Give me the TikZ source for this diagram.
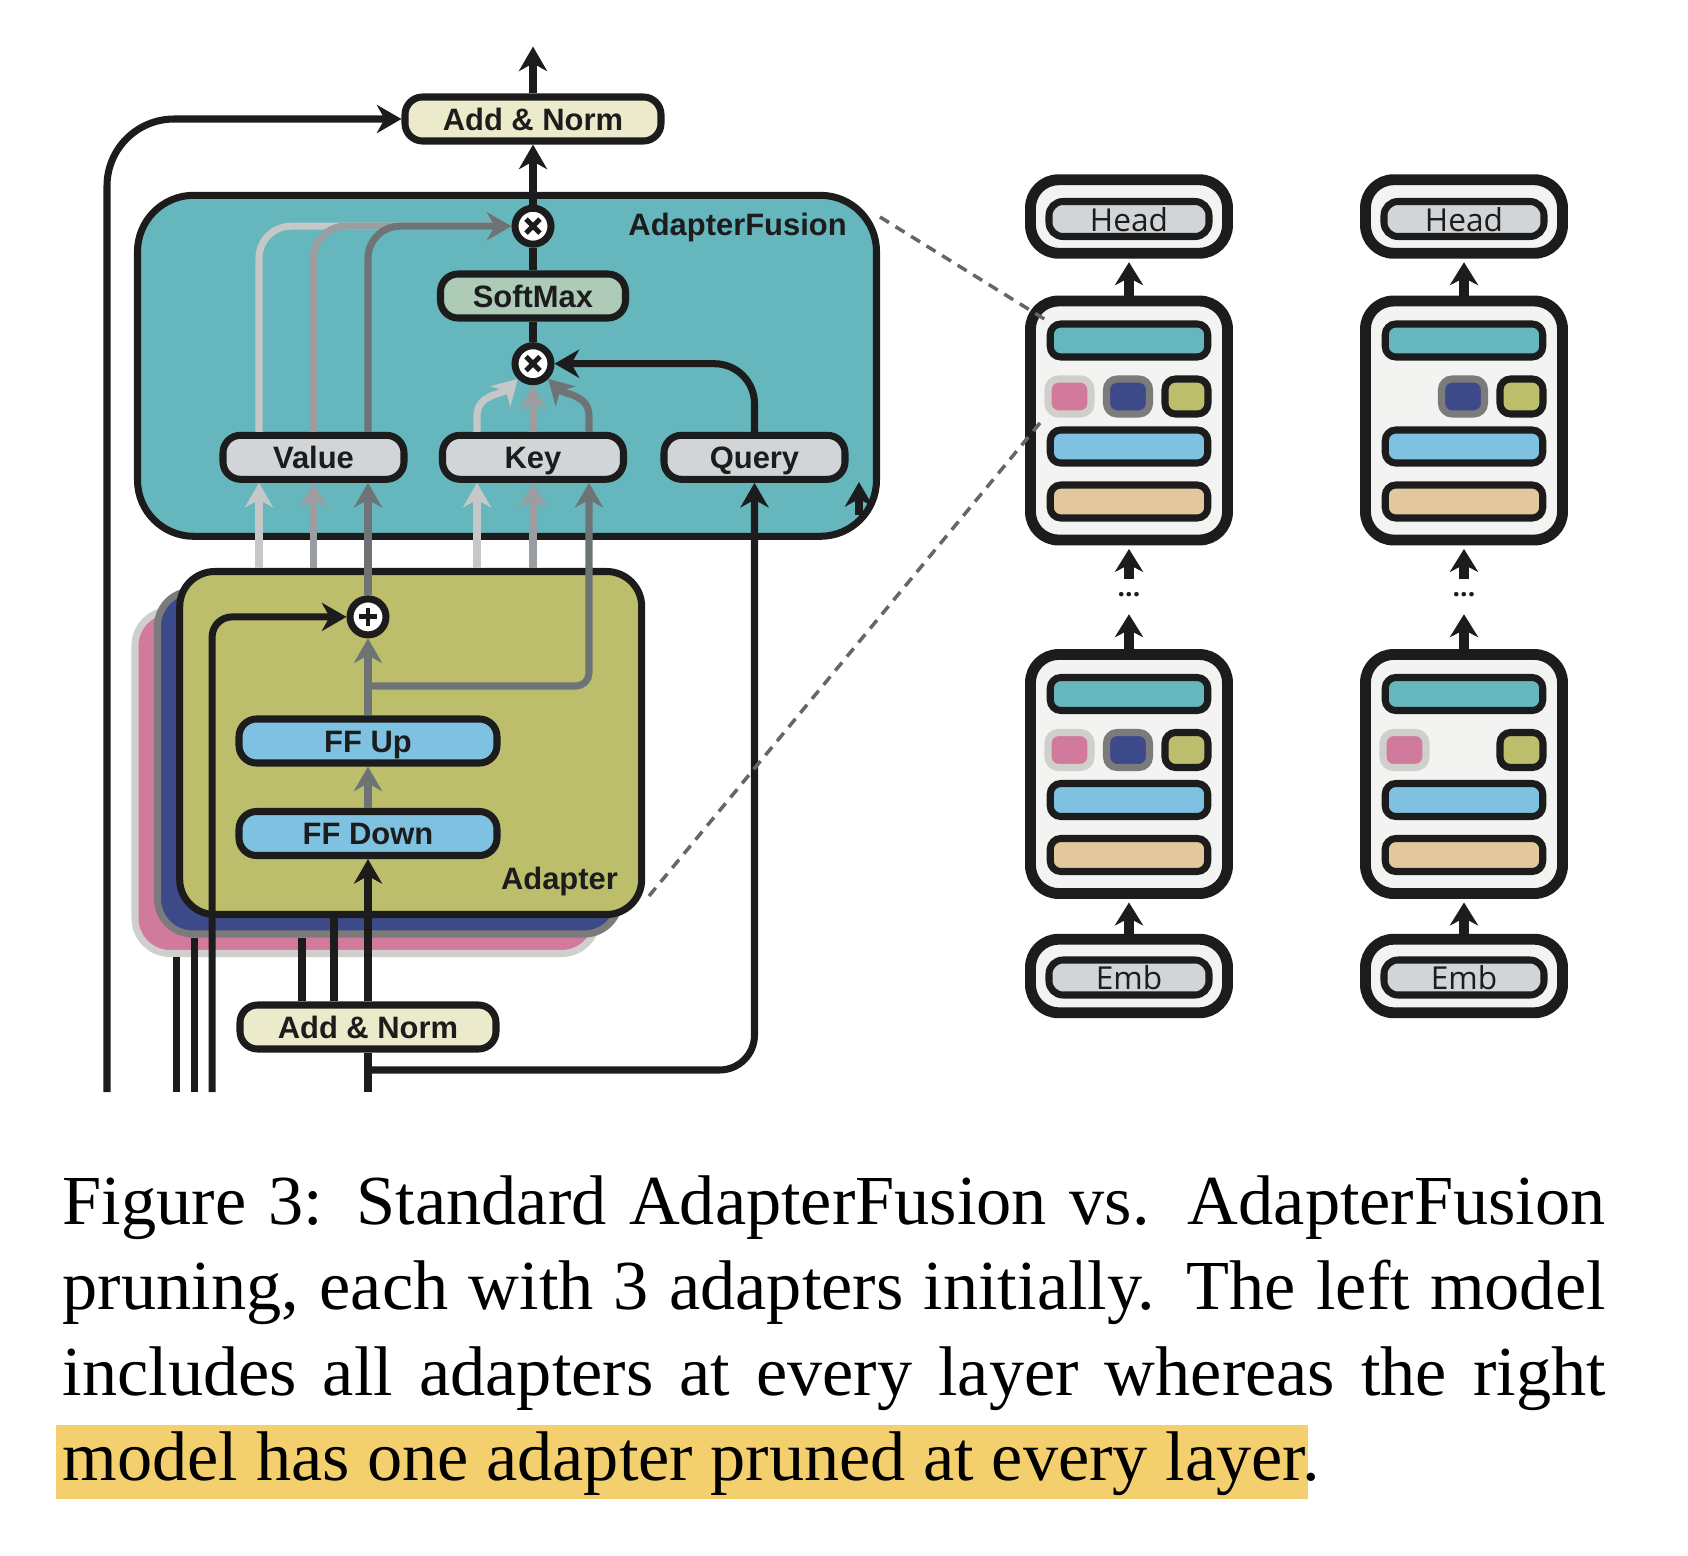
\documentclass[tikz,border=0pt]{standalone}
\usepackage{fontspec}
\setmainfont{Liberation Serif}
\newfontfamily\boxfont{Liberation Sans}
\newfontfamily\modelfont{Open Sans}
\usetikzlibrary{arrows.meta}

\definecolor{ink}{HTML}{1C1C1C}
\definecolor{fusioncol}{HTML}{66B6BD}
\definecolor{olivecol}{HTML}{BCBE6C}
\definecolor{pinkcol}{HTML}{D27A9B}
\definecolor{pinkedge}{HTML}{CFCFCB}
\definecolor{navycol}{HTML}{3D4A8A}
\definecolor{navyedge}{HTML}{7B7B7B}
\definecolor{ffcol}{HTML}{7FC1E0}
\definecolor{normcol}{HTML}{EBEBCC}
\definecolor{softcol}{HTML}{AECBB8}
\definecolor{keycol}{HTML}{D1D5D7}
\definecolor{tancol}{HTML}{E2C89C}
\definecolor{modelbg}{HTML}{F3F3F1}
\definecolor{lightline}{HTML}{C6C8C8}
\definecolor{midline}{HTML}{9A9EA0}
\definecolor{darkline}{HTML}{6E7476}
\definecolor{marker}{HTML}{F3CF6E}
\definecolor{dashcol}{HTML}{666666}

\begin{document}
\begin{tikzpicture}[x=1mm, y=-1mm,
        box/.style={draw=ink, line width=2pt, rounded corners=5pt, minimum height=4.4mm, inner sep=0pt,
            text height=6.3pt, text depth=0pt, text=ink, font=\boxfont\bfseries\fontsize{8.8pt}{10pt}\selectfont},
        lbl/.style={inner sep=0pt, text=ink, font=\boxfont\bfseries\fontsize{8.8pt}{10pt}\selectfont},
        stack/.style={line width=2pt, rounded corners=10pt, minimum width=46.2mm, minimum height=34.3mm},
        otimes/.style={circle, draw=ink, fill=white, line width=2pt, minimum size=3.6mm, inner sep=0pt,
            path picture={\draw[ink, line width=1.4pt] (path picture bounding box.center) +(-.7mm,-.7mm) -- +(.7mm,.7mm) +(-.7mm,.7mm) -- +(.7mm,-.7mm);}},
        oplus/.style={circle, draw=ink, fill=white, line width=2pt, minimum size=3.6mm, inner sep=0pt,
            path picture={\draw[ink, line width=1.4pt] (path picture bounding box.center) +(-.9mm,0) -- +(.9mm,0) +(0,-.9mm) -- +(0,.9mm);}},
        arr/.style={line width=2pt, -{Stealth[length=7pt, width=8pt, inset=2.2pt]}},
        wire/.style={ink, line width=2pt},
        mout/.style={draw=ink, line width=3.1pt, fill=modelbg, rounded corners=8pt, minimum width=19.7mm, inner sep=0pt},
        minner/.style={draw=ink, line width=2pt, fill=keycol, rounded corners=4pt, minimum width=16mm, minimum height=3.5mm,
            inner sep=0pt, text height=6.4pt, text depth=0pt, text=ink, font=\modelfont\fontsize{9pt}{10pt}\selectfont},
        mbar/.style={draw=ink, line width=2pt, rounded corners=3pt, minimum width=15.75mm, minimum height=3.3mm, inner sep=0pt},
        msmall/.style={line width=2pt, rounded corners=3pt, minimum width=4.3mm, minimum height=3.5mm, inner sep=0pt},
        dots/.style={inner sep=0pt, minimum height=3mm, text height=0.9pt, text depth=0pt, text=ink, font=\modelfont\bfseries\fontsize{7.5pt}{8pt}\selectfont},
        marr/.style={ink, line width=2.6pt, -{Stealth[length=6.5pt, width=8pt, inset=2pt]}, shorten >=1pt},
        zoomline/.style={dashcol, line width=1pt, dash pattern=on 3pt off 2.2pt}]
        \useasboundingbox (0,0) rectangle (168.8,155.6);

        % fusion block and the adapter stack
        \node[draw=ink, line width=2pt, fill=fusioncol, rounded corners=16pt, minimum width=73.9mm, minimum height=34.1mm] (fusion) at (50.7,36.58) {};
        \node[stack, draw=pinkedge, fill=pinkcol] (pinkad) at (36.6,78.2) {};
        \node[stack, draw=navyedge, fill=navycol] (navyad) at (38.85,76.25) {};
        \node[stack, draw=ink, fill=olivecol] (olivead) at (41.07,74.3) {};
        \node[lbl, anchor=base east] (fusionlbl) at (84.74,23.59) {AdapterFusion};
        \node[lbl, anchor=base east] (adapterlbl) at (61.86,88.9) {Adapter};

        \node[box, fill=normcol, minimum width=25.6mm] (antop) at (53.3,11.9) {Add \& Norm};
        \node[otimes] (otop) at (53.3,22.62) {};
        \node[box, fill=softcol, minimum width=18.5mm] (softmax) at (53.3,29.6) {SoftMax};
        \node[otimes] (olow) at (53.3,36.37) {};
        \node[box, fill=keycol, minimum width=18.1mm] (value) at (31.35,45.73) {Value};
        \node[box, fill=keycol, minimum width=18.1mm] (key) at (53.3,45.73) {Key};
        \node[box, fill=keycol, minimum width=18.1mm] (query) at (75.45,45.73) {Query};

        \node[oplus] (sum) at (36.8,61.69) {};
        \node[box, fill=ffcol, minimum width=25.8mm] (ffup) at (36.8,74.1) {FF Up};
        \node[box, fill=ffcol, minimum width=25.8mm] (ffdown) at (36.8,83.35) {FF Down};
        \node[box, fill=normcol, minimum width=25.6mm] (anbot) at (36.8,102.7) {Add \& Norm};

        \coordinate (out) at (53.3,4.65);
        \coordinate (inskip) at (10.7,109.2);
        \coordinate (in1) at (17.64,109.2);
        \coordinate (in2) at (19.48,109.2);
        \coordinate (in3) at (21.21,109.2);
        \coordinate (inmain) at (36.8,109.2);
        \coordinate (branch) at (36.8,107);
        \coordinate (split) at (36.8,68.6);
        \coordinate (stub) at (85.9,51.5);

        % inputs from below
        \draw[wire] (in1) -- (in1 |- pinkad.south);
        \draw[wire] (in2) -- (in2 |- navyad.south);
        \draw[wire] (30.2,0 |- anbot.north) -- (30.2,0 |- navyad.south);
        \draw[wire] (33.4,0 |- anbot.north) -- (33.4,0 |- olivead.south);
        \draw[wire] (inmain) -- (anbot);
        \draw[arr, ink] (anbot) -- (ffdown);
        \draw[arr, ink, rounded corners=3.5mm] (branch) -| (query.south);
        \draw[arr, ink, rounded corners=6.7mm] (inskip) |- (antop.west);
        \draw[arr, ink, rounded corners=2mm] (in3) |- (sum.west);

        % adapter internals
        \draw[arr, darkline] (ffdown) -- (ffup);
        \draw[arr, darkline] (ffup) -- (sum);
        \draw[arr, darkline, rounded corners=1.3mm] (split) -| (58.9,0 |- key.south);

        % value and key inputs
        \draw[arr, lightline] (25.9,0 |- olivead.north) -- (25.9,0 |- value.south);
        \draw[arr, midline] (31.35,0 |- olivead.north) -- (31.35,0 |- value.south);
        \draw[arr, darkline] (sum) -- (36.8,0 |- value.south);
        \draw[arr, lightline] (47.7,0 |- olivead.north) -- (47.7,0 |- key.south);
        \draw[arr, midline] (53.3,0 |- olivead.north) -- (key.south);

        % attention
        \draw[arr, lightline, rounded corners=3.2mm] (25.9,0 |- value.north) |- (otop.west);
        \draw[arr, midline, rounded corners=3.2mm] (31.35,0 |- value.north) |- (otop.west);
        \draw[arr, darkline, rounded corners=3.2mm] (36.8,0 |- value.north) |- (otop.west);
        \draw[arr, lightline] (47.7,0 |- key.north) -- ++(0,-1.6) to[out=90, in=-135] (olow.south west);
        \draw[arr, midline] (key.north) -- (olow.south);
        \draw[arr, darkline] (58.9,0 |- key.north) -- ++(0,-1.6) to[out=90, in=-45] (olow.south east);
        \draw[arr, ink, rounded corners=4mm] (query.north) |- (olow.east);
        \draw[wire] (olow) -- (softmax);
        \draw[wire] (softmax) -- (otop);
        \draw[arr, ink] (otop) -- (antop);
        \draw[arr, ink] (antop) -- (out);
        \draw[arr, ink] (stub) -- ++(0,-3.3);

        % standard fusion model
        \node[mout, minimum height=7.35mm] (headA) at (112.9,21.65) {};
        \node[minner] (headinA) at (112.9,21.9) {\raisebox{-0.1mm}{Head}};
        \node[mout, minimum height=23.9mm] (topA) at (112.9,42.05) {};
        \node[mbar, fill=fusioncol] (fuA) at (112.9,34.05) {};
        \node[msmall, draw=pinkedge, fill=pinkcol] (pinkA) at (106.95,39.65) {};
        \node[msmall, draw=navyedge, fill=navycol] (navyA) at (112.8,39.65) {};
        \node[msmall, draw=ink, fill=olivecol] (oliveA) at (118.65,39.65) {};
        \node[mbar, fill=ffcol] (ffA) at (112.9,44.65) {};
        \node[mbar, fill=tancol] (anA) at (112.9,50.15) {};
        \node[dots] (dotsA) at (112.9,59.5) {...};
        \node[mout, minimum height=23.9mm] (botA) at (112.9,77.4) {};
        \node[mbar, fill=fusioncol] (fuA2) at (112.9,69.4) {};
        \node[msmall, draw=pinkedge, fill=pinkcol] (pinkA2) at (106.95,75.0) {};
        \node[msmall, draw=navyedge, fill=navycol] (navyA2) at (112.8,75.0) {};
        \node[msmall, draw=ink, fill=olivecol] (oliveA2) at (118.65,75.0) {};
        \node[mbar, fill=ffcol] (ffA2) at (112.9,80.0) {};
        \node[mbar, fill=tancol] (anA2) at (112.9,85.5) {};
        \node[mout, minimum height=7.35mm] (embA) at (112.9,97.6) {};
        \node[minner] (embinA) at (112.9,97.75) {\raisebox{-0.1mm}{Emb}};
        \draw[marr] (topA) -- (headA);
        \draw[marr] (dotsA) -- (topA);
        \draw[marr] (botA) -- (dotsA);
        \draw[marr] (embA) -- (botA);

        % pruned fusion model
        \node[mout, minimum height=7.35mm] (headB) at (146.4,21.65) {};
        \node[minner] (headinB) at (146.4,21.9) {\raisebox{-0.1mm}{Head}};
        \node[mout, minimum height=23.9mm] (topB) at (146.4,42.05) {};
        \node[mbar, fill=fusioncol] (fuB) at (146.4,34.05) {};
        \node[msmall, draw=navyedge, fill=navycol] (navyB) at (146.3,39.65) {};
        \node[msmall, draw=ink, fill=olivecol] (oliveB) at (152.15,39.65) {};
        \node[mbar, fill=ffcol] (ffB) at (146.4,44.65) {};
        \node[mbar, fill=tancol] (anB) at (146.4,50.15) {};
        \node[dots] (dotsB) at (146.4,59.5) {...};
        \node[mout, minimum height=23.9mm] (botB) at (146.4,77.4) {};
        \node[mbar, fill=fusioncol] (fuB2) at (146.4,69.4) {};
        \node[msmall, draw=pinkedge, fill=pinkcol] (pinkB2) at (140.45,75.0) {};
        \node[msmall, draw=ink, fill=olivecol] (oliveB2) at (152.15,75.0) {};
        \node[mbar, fill=ffcol] (ffB2) at (146.4,80.0) {};
        \node[mbar, fill=tancol] (anB2) at (146.4,85.5) {};
        \node[mout, minimum height=7.35mm] (embB) at (146.4,97.6) {};
        \node[minner] (embinB) at (146.4,97.75) {\raisebox{-0.1mm}{Emb}};
        \draw[marr] (topB) -- (headB);
        \draw[marr] (dotsB) -- (topB);
        \draw[marr] (botB) -- (dotsB);
        \draw[marr] (embB) -- (botB);

        % zoom lines
        \coordinate (fcorner) at (88.0,21.7);
        \coordinate (acorner) at (64.9,89.6);
        \draw[zoomline] (fcorner) -- (fuA.north west);
        \draw[zoomline] (acorner) -- (pinkA.south west);

        % caption
        \fill[marker] (5.6,142.5) rectangle (130.8,149.9);
        \node[anchor=base west, inner sep=0pt, font=\fontsize{20pt}{24pt}\selectfont] (cap1) at (6.2,122.4) {\hbox to 154.3mm{Figure 3: Standard AdapterFusion vs. AdapterFusion}};
        \node[anchor=base west, inner sep=0pt, font=\fontsize{20pt}{24pt}\selectfont] (cap2) at (6.2,130.9) {\hbox to 154.3mm{pruning, each with 3 adapters initially. The left model}};
        \node[anchor=base west, inner sep=0pt, font=\fontsize{20pt}{24pt}\selectfont] (cap3) at (6.2,139.5) {\hbox to 154.3mm{includes all adapters at every layer whereas the right}};
        \node[anchor=base west, inner sep=0pt, font=\fontsize{20pt}{24pt}\selectfont] (cap4) at (6.2,148.0) {model has one adapter pruned at every layer.};
\end{tikzpicture}
\end{document}
